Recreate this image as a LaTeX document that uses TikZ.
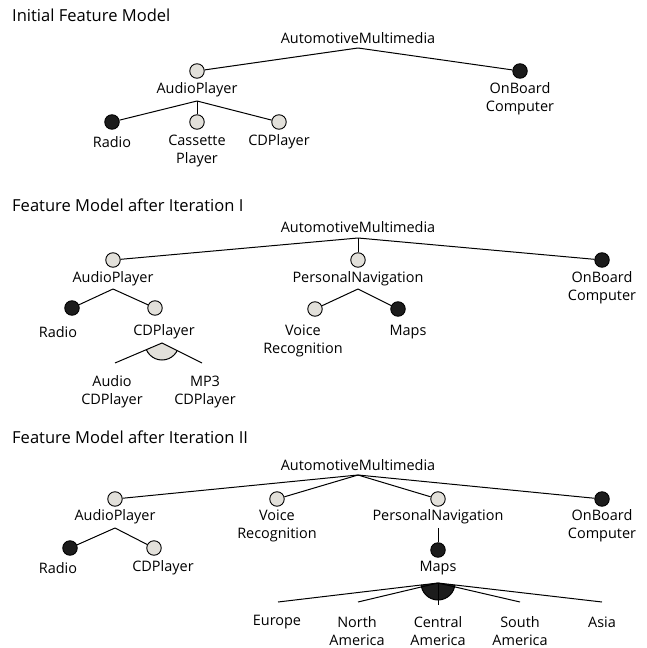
\documentclass[tikz,border=0pt]{standalone}
\usepackage{fontspec}
\setmainfont{Open Sans}
\definecolor{lightfeat}{RGB}{226,224,218}
\definecolor{darkfeat}{RGB}{28,28,28}
\tikzset{
  conn/.style={draw=black, line width=1bp},
  feat/.style={circle, draw=black, line width=0.9bp, minimum size=14.5bp, inner sep=0pt},
  lf/.style={feat, fill=lightfeat},
  df/.style={feat, fill=darkfeat},
  lbl/.style={inner sep=0pt, align=center, font=\fontsize{14.5}{18}\selectfont},
  ttl/.style={inner sep=0pt, anchor=west, font=\fontsize{16.6}{18}\selectfont},
}
\begin{document}
\begin{tikzpicture}[x=1bp,y=-1bp]
\useasboundingbox (0,0) rectangle (647,648);

% ---------- Panel 1 ----------
\node[ttl] (t1) at (12,15) {Initial Feature Model};
\node[lbl] (r1) at (358,38) {AutomotiveMultimedia};
\coordinate (r1j) at (358,48);
\node[lf] (ap1) at (197,71) {};
\node[lbl] (ap1t) at (197,90) {AudioPlayer};
\coordinate (ap1j) at (197,101);
\node[df] (ob1) at (520,71) {};
\node[lbl] (ob1t) at (520,99) {OnBoard\\Computer};
\node[df] (ra1) at (112,122) {};
\node[lbl] (ra1t) at (112,142) {Radio};
\node[lf] (ca1) at (197,122) {};
\node[lbl] (ca1t) at (197,151) {Cassette\\Player};
\node[lf] (cd1) at (279,122) {};
\node[lbl] (cd1t) at (279,142) {CDPlayer};
\draw[conn] (r1j) -- (ap1);
\draw[conn] (r1j) -- (ob1);
\draw[conn] (ap1j) -- (ra1);
\draw[conn] (ap1j) -- (ca1);
\draw[conn] (ap1j) -- (cd1);

% ---------- Panel 2 ----------
\node[ttl] (t2) at (12,205) {Feature Model after Iteration I};
\node[lbl] (r2) at (358,227) {AutomotiveMultimedia};
\coordinate (r2j) at (358,238);
\node[lf] (ap2) at (113,260) {};
\node[lbl] (ap2t) at (113,279) {AudioPlayer};
\coordinate (ap2j) at (113,289);
\node[lf] (pn2) at (358,260) {};
\node[lbl] (pn2t) at (358,279) {PersonalNavigation};
\coordinate (pn2j) at (358,289);
\node[df] (ob2) at (602,260) {};
\node[lbl] (ob2t) at (602,288) {OnBoard\\Computer};
\node[df] (ra2) at (72,308) {};
\node[lbl] (ra2t) at (58,332) {Radio};
\node[lf] (cd2) at (155,308) {};
\node[lbl] (cd2t) at (164,332) {CDPlayer};
\coordinate (alt) at (162,343);
\coordinate (acd) at (115,363);
\coordinate (mcd) at (202,363);
\node[lbl] (acdt) at (112,392) {Audio\\CDPlayer};
\node[lbl] (mcdt) at (205,392) {MP3\\CDPlayer};
\node[lf] (vr2) at (315,309) {};
\node[lbl] (vr2t) at (303,341) {Voice\\Recognition};
\node[df] (mp2) at (398,309) {};
\node[lbl] (mp2t) at (408,332) {Maps};
\draw[conn] (r2j) -- (ap2);
\draw[conn] (r2j) -- (pn2);
\draw[conn] (r2j) -- (ob2);
\draw[conn] (ap2j) -- (ra2);
\draw[conn] (ap2j) -- (cd2);
\draw[conn] (pn2j) -- (vr2);
\draw[conn] (pn2j) -- (mp2);
\begin{scope}
  \clip (alt) -- (acd) -- (mcd) -- cycle;
  \filldraw[fill=lightfeat, draw=black, line width=1bp] (alt) circle[radius=17bp];
\end{scope}
\draw[conn] (acd) -- (alt) -- (mcd);

% ---------- Panel 3 ----------
\node[ttl] (t3) at (12,437) {Feature Model after Iteration II};
\node[lbl] (r3) at (358,465) {AutomotiveMultimedia};
\coordinate (r3j) at (358,475);
\node[lf] (ap3) at (115,499) {};
\node[lbl] (ap3t) at (115,517) {AudioPlayer};
\coordinate (ap3j) at (115,528);
\node[df] (ra3) at (70,548) {};
\node[lbl] (ra3t) at (58,568) {Radio};
\node[lf] (cd3) at (154,548) {};
\node[lbl] (cd3t) at (163,568) {CDPlayer};
\node[lf] (vr3) at (277,499) {};
\node[lbl] (vr3t) at (277,526) {Voice\\Recognition};
\node[lf] (pn3) at (438,499) {};
\node[lbl] (pn3t) at (438,517) {PersonalNavigation};
\coordinate (pn3j) at (438,528);
\node[df] (mp3) at (438,550) {};
\node[lbl] (mp3t) at (438,568) {Maps};
\coordinate (orj) at (438,583);
\node[df] (ob3) at (602,499) {};
\node[lbl] (ob3t) at (602,526) {OnBoard\\Computer};
\coordinate (eu) at (278,602);
\coordinate (na) at (358,602);
\coordinate (ca) at (438,605);
\coordinate (sa) at (520,602);
\coordinate (as) at (602,602);
\node[lbl] (eut) at (277,622) {Europe};
\node[lbl] (nat) at (357,631) {North\\America};
\node[lbl] (cat) at (438,631) {Central\\America};
\node[lbl] (sat) at (520,631) {South\\America};
\node[lbl] (ast) at (602,622) {Asia};
\draw[conn] (r3j) -- (ap3);
\draw[conn] (r3j) -- (vr3);
\draw[conn] (r3j) -- (pn3);
\draw[conn] (r3j) -- (ob3);
\draw[conn] (ap3j) -- (ra3);
\draw[conn] (ap3j) -- (cd3);
\draw[conn] (pn3j) -- (mp3);
\begin{scope}
  \clip (orj) -- (eu) -- (as) -- cycle;
  \filldraw[fill=darkfeat, draw=black, line width=1bp] (orj) circle[radius=17bp];
\end{scope}
\draw[conn] (orj) -- (eu);
\draw[conn] (orj) -- (na);
\draw[conn] (orj) -- (ca);
\draw[conn] (orj) -- (sa);
\draw[conn] (orj) -- (as);
\end{tikzpicture}
\end{document}
